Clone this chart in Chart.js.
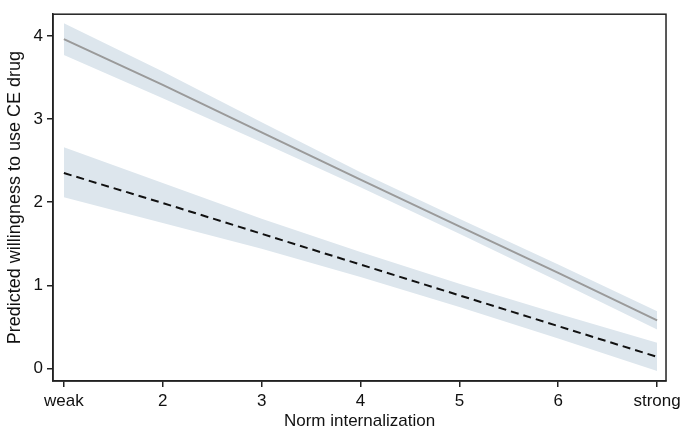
<!DOCTYPE html>
<html><head><meta charset="utf-8">
<script src="https://cdn.jsdelivr.net/npm/chart.js@4/dist/chart.umd.min.js"></script>
<style>html,body{margin:0;padding:0;background:#fff}#w{width:685px;height:433px}</style>
</head><body><div id="w"><canvas id="c" width="685" height="433"></canvas></div>
<script>
const xValues = [1, 2, 3, 4, 5, 6, 7];
const xTickLabels = ["weak", "2", "3", "4", "5", "6", "strong"];
const yTicks = [0, 1, 2, 3, 4];
const upperLine = [3.96, 3.41, 2.84, 2.27, 1.71, 1.15, 0.58];
const upperHi   = [4.15, 3.57, 2.96, 2.36, 1.80, 1.25, 0.69];
const upperLo   = [3.77, 3.25, 2.72, 2.18, 1.62, 1.05, 0.47];
const lowerLine = [2.35, 1.99, 1.62, 1.25, 0.88, 0.51, 0.14];
const lowerHi   = [2.66, 2.23, 1.80, 1.40, 1.02, 0.66, 0.31];
const lowerLo   = [2.06, 1.75, 1.44, 1.10, 0.74, 0.36, -0.03];

const pts = arr => arr.map((v, i) => ({x: xValues[i], y: v}));
const band = '#dde6ed';
const FAM = "'Liberation Sans', Arial, sans-serif";
const FONT = {family: FAM, size: 17};

const boxPlugin = {
  id: 'box',
  afterDraw(chart) {
    const {ctx, chartArea: a} = chart;
    ctx.save();
    ctx.strokeStyle = '#222';
    ctx.lineWidth = 1.5;
    ctx.strokeRect(a.left, a.top, a.right - a.left, a.bottom - a.top);
    ctx.restore();
  }
};

new Chart(document.getElementById('c'), {
  type: 'line',
  data: {
    datasets: [
      {data: pts(upperHi), borderWidth: 0, pointRadius: 0, backgroundColor: band, fill: 1, order: 2, tension: 0},
      {data: pts(upperLo), borderWidth: 0, pointRadius: 0, backgroundColor: band, fill: false, order: 2, tension: 0},
      {data: pts(lowerHi), borderWidth: 0, pointRadius: 0, backgroundColor: band, fill: 3, order: 2, tension: 0},
      {data: pts(lowerLo), borderWidth: 0, pointRadius: 0, backgroundColor: band, fill: false, order: 2, tension: 0},
      {data: pts(upperLine), borderColor: '#9a9a9a', borderWidth: 2, pointRadius: 0, fill: false, order: 0, tension: 0},
      {data: pts(lowerLine), borderColor: '#111', borderWidth: 2, borderDash: [8, 5], pointRadius: 0, fill: false, order: 0, tension: 0}
    ]
  },
  options: {
    responsive: false,
    animation: false,
    events: [],
    layout: {padding: {top: 5, right: 18, left: 0, bottom: 0}},
    plugins: {legend: {display: false}, tooltip: {enabled: false}},
    scales: {
      x: {
        type: 'linear', min: 0.89, max: 7.09,
        afterBuildTicks: s => { s.ticks = xValues.map(v => ({value: v})); },
        afterFit: s => { s.height = 52; },
        ticks: {color: '#111', font: FONT, padding: 4, maxRotation: 0, autoSkip: false,
          callback: (v) => { const i = xValues.indexOf(v); return i >= 0 ? xTickLabels[i] : ''; }},
        grid: {drawOnChartArea: false, drawTicks: true, tickLength: 6, color: '#222', lineWidth: 1.5},
        border: {display: true, color: '#222', width: 1.5},
        title: {display: true, text: 'Norm internalization', color: '#111', font: FONT, padding: {top: 0, bottom: 1}}
      },
      y: {
        type: 'linear', min: -0.15, max: 4.26,
        afterBuildTicks: s => { s.ticks = yTicks.map(v => ({value: v})); },
        afterFit: s => { s.width = 53; },
        ticks: {color: '#111', font: FONT, padding: 4},
        grid: {drawOnChartArea: false, drawTicks: true, tickLength: 6, color: '#222', lineWidth: 1.5},
        border: {display: true, color: '#222', width: 1.5},
        title: {display: true, text: 'Predicted willingness to use CE drug', color: '#111', font: {family: FAM, size: 18}, padding: {top: 4, bottom: 0}}
      }
    }
  },
  plugins: [boxPlugin]
});
</script>
</body></html>
